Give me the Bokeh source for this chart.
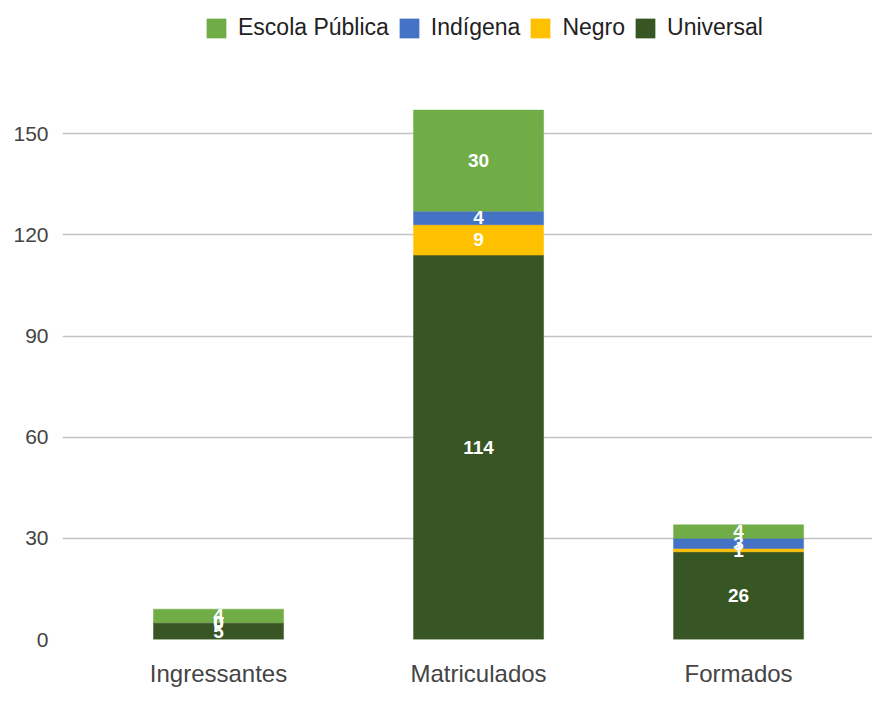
import numpy as np
from bokeh.plotting import figure
from bokeh.models import (ColumnDataSource, Range1d, FixedTicker, Legend, LegendItem)
from bokeh.core.properties import value
from bokeh.embed import file_html
from bokeh.resources import INLINE

categories = ["Ingressantes", "Matriculados", "Formados"]
universal = [5, 114, 26]
negro = [0, 9, 1]
indigena = [0, 4, 3]
escola = [4, 30, 4]

series_names = ["Universal", "Negro", "Indígena", "Escola Pública"]
series_vals = [universal, negro, indigena, escola]
series_colors = ["#375623", "#FFC000", "#4472C4", "#70AD47"]
y_ticks = [0, 30, 60, 90, 120, 150]

FONT = "Liberation Sans"
xs = list(range(len(categories)))

p = figure(width=872, height=689, output_backend="svg", toolbar_location=None,
           x_range=Range1d(-0.6, 2.515), y_range=Range1d(0, 189.5),
           min_border_left=62, min_border_right=0, min_border_top=0,
           min_border_bottom=0, outline_line_color=None)

bottom = np.zeros(len(categories))
renderers = {}
lx, ly, lt = [], [], []
for name, vals, col in zip(series_names, series_vals, series_colors):
    vals = np.array(vals, dtype=float)
    src = ColumnDataSource(dict(x=xs, top=bottom + vals, bottom=bottom.copy()))
    r = p.vbar(x="x", top="top", bottom="bottom", width=0.5, source=src,
               fill_color=col, line_color=col, line_width=0.5)
    renderers[name] = r
    for i, v in enumerate(vals):
        lx.append(xs[i])
        ly.append(bottom[i] + v / 2)
        lt.append(str(int(v)))
    bottom = bottom + vals

lsrc = ColumnDataSource(dict(x=lx, y=ly, t=lt))
p.text(x="x", y="y", text="t", source=lsrc, text_color="white",
       text_font=value(FONT), text_font_size="19px", text_font_style="bold",
       text_align="center", text_baseline="middle")

# axes
p.yaxis.ticker = FixedTicker(ticks=y_ticks)
p.xaxis.ticker = FixedTicker(ticks=xs)
p.xaxis.major_label_overrides = {i: c for i, c in enumerate(categories)}
for ax in (p.xaxis[0], p.yaxis[0]):
    ax.axis_line_color = None
    ax.major_tick_line_color = None
    ax.minor_tick_line_color = None
    ax.major_tick_out = 0
    ax.major_tick_in = 0
    ax.minor_tick_out = 0
    ax.major_label_text_font = FONT
    ax.major_label_text_color = "#444444"
p.yaxis.major_label_text_font_size = "21px"
p.yaxis.major_label_standoff = 14
p.xaxis.major_label_text_font_size = "24px"
p.xaxis.major_label_standoff = 20

p.xgrid.grid_line_color = None
p.ygrid.grid_line_color = "#c4c4c4"
p.ygrid.grid_line_width = 1.5

legend_order = ["Escola Pública", "Indígena", "Negro", "Universal"]
legend = Legend(items=[LegendItem(label=n, renderers=[renderers[n]]) for n in legend_order],
                orientation="horizontal", location=(142, 598),
                glyph_width=24, glyph_height=24, label_standoff=10, spacing=8,
                padding=0, margin=0, border_line_color=None,
                background_fill_alpha=0, label_text_font=FONT,
                label_text_font_size="23px", label_text_color="#222222")
p.add_layout(legend, "center")

open("out.html", "w").write(file_html(p, INLINE))
